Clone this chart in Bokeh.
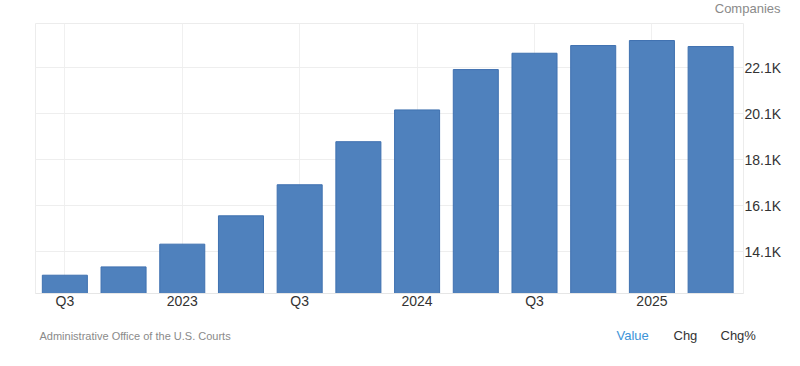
from bokeh.plotting import figure
from bokeh.models import FixedTicker, Range1d
from bokeh.layouts import column, row
from bokeh.core.properties import value
from bokeh.embed import file_html
from bokeh.resources import INLINE

quarters = ["Q3 2022", "Q4 2022", "Q1 2023", "Q2 2023", "Q3 2023", "Q4 2023",
            "Q1 2024", "Q2 2024", "Q3 2024", "Q4 2024", "Q1 2025", "Q2 2025"]
companies = [13085, 13447, 14435, 15668, 17018, 18891,
             20272, 22027, 22737, 23072, 23290, 23028]
x_tick_pos = [0, 2, 4, 6, 8, 10]
x_tick_labels = ["Q3", "2023", "Q3", "2024", "Q3", "2025"]
y_ticks = [14100, 16100, 18100, 20100, 22100]
y_tick_labels = ["14.1K", "16.1K", "18.1K", "20.1K", "22.1K"]
unit_label = "Companies"
source_label = "Administrative Office of the U.S. Courts"
tabs = ["Value", "Chg", "Chg%"]

FONT = "Liberation Sans"
W = 798
Y0, Y1 = 12290, 24030


def strip(h):
    s = figure(width=W, height=h, output_backend="svg", toolbar_location=None,
               x_axis_location=None, y_axis_location=None,
               x_range=Range1d(0, W), y_range=Range1d(h, 0),
               min_border=0, min_border_left=0, min_border_right=0,
               min_border_top=0, min_border_bottom=0, outline_line_color=None)
    s.grid.visible = False
    return s


# header strip with unit label
head = strip(23)
head.text(x=[780], y=[8], text=[unit_label], text_align="right",
          text_baseline="middle", text_font=value(FONT), text_font_size="13px",
          text_color="#8a8a8a")

# main chart
p = figure(width=W, height=296, output_backend="svg", toolbar_location=None,
           y_axis_location="right",
           x_range=Range1d(-0.5, 11.56), y_range=Range1d(Y0, Y1),
           min_border_left=35, min_border_top=0, min_border_right=W - 743,
           min_border_bottom=26)

xs = list(range(len(quarters)))
p.vbar(x=xs, top=companies, bottom=Y0, width=0.767,
       fill_color="#4f81bd", line_color="#3f71b0", line_width=1)

p.outline_line_color = "#ececec"
p.xaxis.ticker = FixedTicker(ticks=x_tick_pos)
p.xaxis.major_label_overrides = {k: v for k, v in zip(x_tick_pos, x_tick_labels)}
p.yaxis.ticker = FixedTicker(ticks=y_ticks)
p.yaxis.major_label_overrides = {k: v for k, v in zip(y_ticks, y_tick_labels)}

for ax in (p.xaxis[0], p.yaxis[0]):
    ax.axis_line_color = "#e6e6e6"
    ax.major_tick_line_color = None
    ax.minor_tick_line_color = None
    ax.major_tick_out = 0
    ax.major_tick_in = 0
    ax.major_label_text_font = FONT
    ax.major_label_text_font_size = "14px"
    ax.major_label_text_color = "#333333"
p.xaxis.major_label_standoff = -1
p.yaxis.major_label_standoff = 1
p.yaxis.axis_line_color = None

p.xgrid.ticker = FixedTicker(ticks=x_tick_pos)
p.ygrid.ticker = FixedTicker(ticks=y_ticks)
p.xgrid.grid_line_color = "#f0f0f0"
p.ygrid.grid_line_color = "#eeeeee"

# footer strip: source and tabs
foot = strip(46)
foot.text(x=[39], y=[16], text=[source_label], text_align="left",
          text_baseline="middle", text_font=value(FONT), text_font_size="11px",
          text_color="#8a8a8a")
foot.text(x=[616, 673, 720], y=[16, 16, 16], text=tabs, text_align="left",
          text_baseline="middle", text_font=value(FONT), text_font_size="13px",
          text_color=["#3d94d8", "#333333", "#333333"])

layout = column(head, row(p), foot, spacing=0)
open("out.html", "w").write(file_html(layout, INLINE))
